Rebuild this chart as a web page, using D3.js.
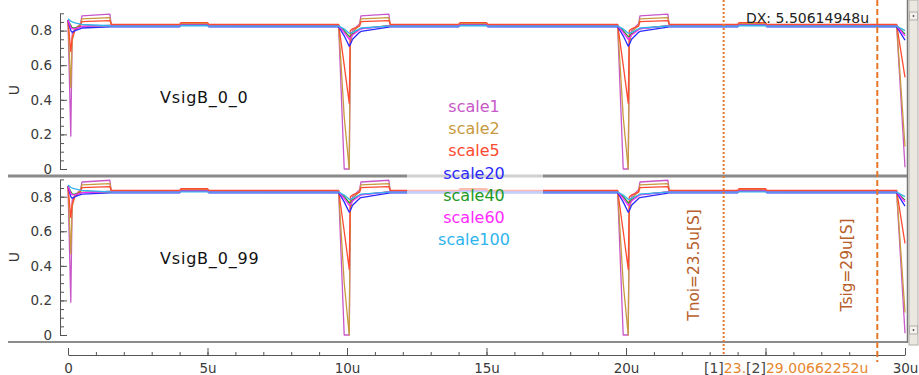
<!DOCTYPE html>
<html>
<head>
<meta charset="utf-8">
<script src="https://cdn.jsdelivr.net/npm/d3@7"></script>
<style>
  body { margin: 0; background: #fff; }
  svg { display: block; font-family: "DejaVu Sans", sans-serif; }
</style>
</head>
<body>
<div id="chart"></div>
<script>
// sample times (u) shared by every series
const times = [0, 0.1, 0.15, 0.25, 0.45, 0.5, 1.5, 1.55, 4.0, 4.05, 5.0, 5.05,
  9.7, 9.9, 10.08, 10.12, 10.2, 10.45, 10.5, 11.5, 11.55, 14.0, 14.05, 15.0, 15.05,
  19.7, 19.9, 20.08, 20.12, 20.2, 20.45, 20.5, 21.5, 21.55, 24.0, 24.05, 25.0, 25.05,
  29.7, 30.0];

const scale1 = [0.86, 0.19, 0.78, 0.81, 0.84, 0.885, 0.895, 0.835, 0.83, 0.838, 0.838, 0.83,
  0.83, 0.0, 0.0, 0.76, 0.8, 0.84, 0.885, 0.895, 0.835, 0.83, 0.838, 0.838, 0.83,
  0.83, 0.0, 0.0, 0.76, 0.8, 0.84, 0.885, 0.895, 0.835, 0.83, 0.838, 0.838, 0.83,
  0.83, 0.01];
const scale2 = [0.86, 0.47, 0.74, 0.81, 0.835, 0.868, 0.875, 0.835, 0.833, 0.84, 0.84, 0.833,
  0.835, 0.3, 0.0, 0.72, 0.79, 0.83, 0.868, 0.875, 0.835, 0.833, 0.84, 0.84, 0.833,
  0.835, 0.3, 0.0, 0.72, 0.79, 0.83, 0.868, 0.875, 0.835, 0.833, 0.84, 0.84, 0.833,
  0.835, 0.13];
const scale5 = [0.86, 0.68, 0.76, 0.8, 0.83, 0.852, 0.858, 0.836, 0.836, 0.846, 0.846, 0.836,
  0.836, 0.6, 0.38, 0.8, 0.81, 0.826, 0.852, 0.858, 0.836, 0.836, 0.846, 0.846, 0.836,
  0.836, 0.6, 0.38, 0.8, 0.81, 0.826, 0.852, 0.858, 0.836, 0.836, 0.846, 0.846, 0.836,
  0.836, 0.53];
const scale20 = [0.86, 0.8, 0.79, 0.8, 0.812, 0.815, 0.822, 0.822, 0.822, 0.832, 0.832, 0.822,
  0.823, 0.77, 0.71, 0.72, 0.75, 0.79, 0.795, 0.82, 0.822, 0.822, 0.832, 0.832, 0.822,
  0.823, 0.77, 0.71, 0.72, 0.75, 0.79, 0.795, 0.82, 0.822, 0.822, 0.832, 0.832, 0.822,
  0.823, 0.745];
const scale40 = [0.86, 0.83, 0.815, 0.815, 0.822, 0.825, 0.83, 0.828, 0.828, 0.831, 0.831, 0.828,
  0.828, 0.8, 0.765, 0.765, 0.78, 0.808, 0.812, 0.828, 0.828, 0.828, 0.831, 0.831, 0.828,
  0.828, 0.8, 0.765, 0.765, 0.78, 0.808, 0.812, 0.828, 0.828, 0.828, 0.831, 0.831, 0.828,
  0.828, 0.78];
const scale60 = [0.86, 0.82, 0.81, 0.812, 0.82, 0.824, 0.83, 0.827, 0.827, 0.832, 0.832, 0.827,
  0.827, 0.79, 0.75, 0.755, 0.775, 0.805, 0.81, 0.827, 0.827, 0.827, 0.832, 0.832, 0.827,
  0.827, 0.79, 0.75, 0.755, 0.775, 0.805, 0.81, 0.827, 0.827, 0.827, 0.832, 0.832, 0.827,
  0.827, 0.77];
const scale100 = [0.868, 0.855, 0.85, 0.845, 0.838, 0.836, 0.828, 0.826, 0.826, 0.828, 0.828, 0.826,
  0.826, 0.81, 0.785, 0.785, 0.79, 0.81, 0.815, 0.826, 0.826, 0.826, 0.828, 0.828, 0.826,
  0.826, 0.81, 0.785, 0.785, 0.79, 0.81, 0.815, 0.826, 0.826, 0.826, 0.828, 0.828, 0.826,
  0.826, 0.8];

const seriesNames = ['scale1', 'scale2', 'scale5', 'scale20', 'scale40', 'scale60', 'scale100'];
const seriesValues = [scale1, scale2, scale5, scale20, scale40, scale60, scale100];
const seriesColors = ['#c858c8', '#c89a40', '#ff4a30', '#2a2aff', '#229922', '#ff2aff', '#30b4ee'];

const panelNames = ['VsigB_0_0', 'VsigB_0_99'];

// 25u sits under the cursor readout, so its label is not shown
const xTicks = [0, 5, 10, 15, 20, 25, 30];
const xTickLabels = ['0', '5u', '10u', '15u', '20u', '', '30u'];
const yTicks = [0, 0.2, 0.4, 0.6, 0.8];
const yTickLabels = ['0', '0.2', '0.4', '0.6', '0.8'];

const cursorTimes = [23.50047304, 29.00662252];
const cursorLabels = ['Tnoi=23.5u[S]', 'Tsig=29u[S]'];

const W = 919, H = 375;
const svg = d3.select('#chart').append('svg').attr('width', W).attr('height', H);

const x = d3.scaleLinear().domain([0, 30]).range([68, 905]);
const axisX = 60;

const panels = [
  { top: 13.3, bottom: 169, labelY: 97, uY: 90 },
  { top: 179.4, bottom: 335, labelY: 258, uY: 257 }
];

const line = d3.line().x(d => x(d[0]));

panels.forEach((p, pi) => {
  const y = d3.scaleLinear().domain([0, 0.9]).range([p.bottom, p.top]);
  const g = svg.append('g');

  // waveforms
  seriesValues.forEach((vals, si) => {
    const pts = times.map((t, k) => [t, vals[k]]);
    g.append('path')
      .datum(pts)
      .attr('fill', 'none')
      .attr('stroke', seriesColors[si])
      .attr('stroke-width', 1.3)
      .attr('stroke-linejoin', 'round')
      .attr('d', line.y(d => y(d[1])));
  });

  // minor y ticks
  const minor = g.append('g').attr('transform', `translate(${axisX},0)`)
    .call(d3.axisLeft(y).tickValues(d3.range(0, 0.901, 0.05)).tickSize(-4).tickFormat(''));
  minor.select('.domain').remove();
  minor.selectAll('line').attr('stroke', '#555');

  // major y ticks
  const major = g.append('g').attr('transform', `translate(${axisX},0)`)
    .call(d3.axisLeft(y).tickValues(yTicks).tickFormat((d, i) => yTickLabels[i])
      .tickSizeInner(-7).tickSizeOuter(0).tickPadding(8));
  major.select('.domain').attr('stroke', '#555');
  major.selectAll('line').attr('stroke', '#555');
  major.selectAll('text').attr('font-size', 13.5).attr('fill', '#3a3a3a')
    .attr('font-family', '"DejaVu Sans", sans-serif');

  g.append('text')
    .attr('transform', `translate(14,${p.uY}) rotate(-90)`)
    .attr('text-anchor', 'middle').attr('dominant-baseline', 'central')
    .attr('font-size', 14).attr('fill', '#333').text('U');

  g.append('text')
    .attr('x', 160).attr('y', p.labelY)
    .attr('dominant-baseline', 'central')
    .attr('font-size', 16).attr('letter-spacing', 0.8)
    .attr('fill', '#111').text(panelNames[pi]);
});

// panel frames
svg.append('line').attr('x1', 8).attr('x2', 907).attr('y1', 176).attr('y2', 176)
  .attr('stroke', '#8a8a8a').attr('stroke-width', 3);
svg.append('line').attr('x1', 8).attr('x2', 907).attr('y1', 342).attr('y2', 342)
  .attr('stroke', '#666').attr('stroke-width', 1.5);
svg.append('line').attr('x1', 907.5).attr('x2', 907.5).attr('y1', 0).attr('y2', 343)
  .attr('stroke', '#777').attr('stroke-width', 1.5);

// scrollbar
svg.append('rect').attr('x', 909).attr('y', 0).attr('width', 9).attr('height', 345)
  .attr('fill', '#ebe8e1').attr('stroke', '#b0ada6').attr('stroke-width', 1);
[12, 326].forEach(yy => {
  svg.append('rect').attr('x', 909.5).attr('y', yy).attr('width', 8).attr('height', 8)
    .attr('fill', '#f4f2ee').attr('stroke', '#b0ada6');
  svg.append('circle').attr('cx', 913.5).attr('cy', yy + 4).attr('r', 0.9).attr('fill', '#555');
});

// x axis
const xMinor = svg.append('g').attr('transform', 'translate(0,355)')
  .call(d3.axisBottom(x).tickValues(d3.range(0, 31, 1)).tickSize(-3).tickFormat(''));
xMinor.select('.domain').remove();
xMinor.selectAll('line').attr('stroke', '#555');
const xMajor = svg.append('g').attr('transform', 'translate(0,355)')
  .call(d3.axisBottom(x).tickValues(xTicks).tickFormat((d, i) => xTickLabels[i])
    .tickSizeInner(-7).tickSizeOuter(0).tickPadding(8));
xMajor.select('.domain').attr('stroke', '#555');
xMajor.selectAll('line').attr('stroke', '#555');
xMajor.selectAll('text').attr('font-size', 13.5).attr('fill', '#3a3a3a')
  .attr('font-family', '"DejaVu Sans", sans-serif');

// cursors
svg.append('line').attr('x1', x(cursorTimes[0])).attr('x2', x(cursorTimes[0]))
  .attr('y1', 0).attr('y2', 356)
  .attr('stroke', '#e8772a').attr('stroke-width', 2).attr('stroke-dasharray', '2,2');
svg.append('line').attr('x1', x(cursorTimes[1])).attr('x2', x(cursorTimes[1]))
  .attr('y1', 0).attr('y2', 362)
  .attr('stroke', '#e8772a').attr('stroke-width', 2).attr('stroke-dasharray', '6,3');

cursorLabels.forEach((lab, i) => {
  svg.append('text')
    .attr('transform', `translate(${x(cursorTimes[i]) - 30},265) rotate(-90)`)
    .attr('text-anchor', 'middle').attr('dominant-baseline', 'central')
    .attr('font-size', 15.4).attr('fill', '#b8602c').text(lab);
});

svg.append('text').attr('x', 746).attr('y', 23)
  .attr('font-size', 14).attr('fill', '#222')
  .text('DX: ' + (cursorTimes[1] - cursorTimes[0]).toFixed(8) + 'u');

const ct = svg.append('text').attr('x', 704).attr('y', 373).attr('font-size', 14);
ct.append('tspan').attr('fill', '#444').text('[1]');
ct.append('tspan').attr('fill', '#e8862e').text('23.');
ct.append('tspan').attr('fill', '#444').text('[2]');
ct.append('tspan').attr('fill', '#e8862e').text(cursorTimes[1].toFixed(8) + 'u');

// legend
svg.append('rect').attr('x', 407).attr('y', 92).attr('width', 136).attr('height', 160)
  .attr('fill', '#fff').attr('opacity', 0.6);
seriesNames.forEach((name, i) => {
  svg.append('text')
    .attr('x', 474).attr('y', 106.7 + i * 22.1)
    .attr('text-anchor', 'middle').attr('dominant-baseline', 'central')
    .attr('font-size', 16).attr('fill', seriesColors[i]).text(name);
});
</script>
</body>
</html>
